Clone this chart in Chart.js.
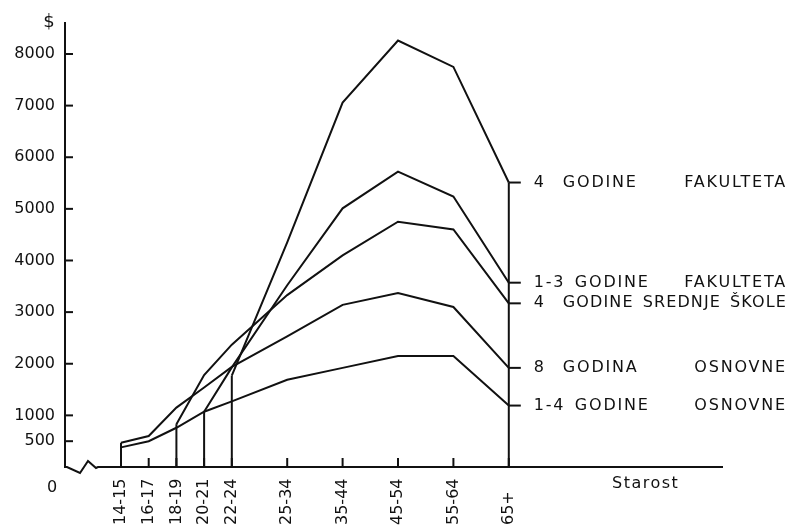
<!DOCTYPE html>
<html lang="hr">
<head>
    <meta charset="UTF-8">
    <title>Prihod prema starosti i obrazovanju</title>
    <script src="https://cdn.jsdelivr.net/npm/chart.js@4.4.0/dist/chart.umd.min.js"></script>
    <style>
        html, body { margin: 0; padding: 0; background: #fff; }
    </style>
</head>
<body>
    <canvas id="myChart" width="792" height="525"></canvas>

    <script>
        // age groups and where they sit on the (uneven) x axis
        const ages = ['14-15', '16-17', '18-19', '20-21', '22-24', '25-34', '35-44', '45-54', '55-64', '65+'];
        const agePos = [0, 1, 2, 3, 4, 6, 8, 10, 12, 14];

        const yTicks = [500, 1000, 2000, 3000, 4000, 5000, 6000, 7000, 8000];
        const yTickText = ['500', '1000', '2000', '3000', '4000', '5000', '6000', '7000', '8000'];

        // income in $ per education level (null = group not yet in the workforce)
        const fak4  = [null, null, null, null, 1770, 4350, 7060, 8260, 7750, 5510];
        const fak13 = [null, null, null, 1070, 1930, 3520, 5010, 5720, 5240, 3570];
        const sred4 = [null, null, 830, 1780, 2370, 3330, 4100, 4750, 4600, 3170];
        const osn8  = [470, 600, 1150, 1540, 1940, 2530, 3140, 3370, 3100, 1920];
        const osn14 = [380, 500, 760, 1070, 1270, 1690, 1920, 2150, 2150, 1190];

        const seriesNames = [
            '4 GODINE FAKULTETA',
            '1-3 GODINE FAKULTETA',
            '4 GODINE SREDNJE ŠKOLE',
            '8 GODINA OSNOVNE',
            '1-4 GODINE OSNOVNE'
        ];
        const yTitle = '$';
        const xTitle = 'Starost';
        const zeroLabel = '0';

        const allSeries = [fak4, fak13, sred4, osn8, osn14];
        const ink = '#111';
        const family = '"DejaVu Sans", sans-serif';

        function toPoints(vals) {
            return agePos.map((x, i) => ({ x: x, y: vals[i] })).filter(p => p.y !== null);
        }

        function line(ctx, x1, y1, x2, y2) {
            ctx.beginPath();
            ctx.moveTo(x1, y1);
            ctx.lineTo(x2, y2);
            ctx.stroke();
        }

        // axis break, inner ticks, drop lines and the hand-lettered labels
        const decor = {
            id: 'decor',
            afterDraw(chart) {
                const { ctx, chartArea, scales: { x, y } } = chart;
                const y0 = y.getPixelForValue(0);
                const L = chartArea.left;
                ctx.save();
                ctx.strokeStyle = ink;
                ctx.fillStyle = ink;

                // x axis with zigzag break
                ctx.lineWidth = 2;
                ctx.beginPath();
                ctx.moveTo(L, y0);
                ctx.lineTo(L + 2, y0);
                ctx.lineTo(L + 15, y0 + 6);
                ctx.lineTo(L + 23, y0 - 6);
                ctx.lineTo(L + 31, y0 + 1);
                ctx.lineTo(L + 33, y0);
                ctx.lineTo(chartArea.right, y0);
                ctx.stroke();

                // y ticks pointing inward
                yTicks.forEach(v => {
                    const py = y.getPixelForValue(v);
                    line(ctx, L, py, L + 8, py);
                });

                // x ticks
                agePos.forEach(p => {
                    const px = x.getPixelForValue(p);
                    line(ctx, px, y0, px, y0 - 9);
                });

                // vertical line where each series begins
                allSeries.forEach(vals => {
                    const i = vals.findIndex(v => v !== null);
                    const px = x.getPixelForValue(agePos[i]);
                    line(ctx, px, y0, px, y.getPixelForValue(vals[i]));
                });

                // closing vertical at the last age group
                const last = agePos.length - 1;
                const xe = x.getPixelForValue(agePos[last]);
                const top = Math.max(...allSeries.map(v => v[last]));
                line(ctx, xe, y0, xe, y.getPixelForValue(top));

                // series labels at the right end, words spread to the edge
                ctx.font = '16px ' + family;
                ctx.textBaseline = 'middle';
                ctx.textAlign = 'left';
                const end = chart.width - 5;
                allSeries.forEach((vals, i) => {
                    const py = y.getPixelForValue(vals[last]);
                    line(ctx, xe, py, xe + 12, py);
                    const words = seriesNames[i].split(' ');
                    ctx.letterSpacing = '1.8px';
                    ctx.fillText(words[0], xe + 25, py);
                    const rest = words.slice(1);
                    const start = words[0].length > 1 ? xe + 66 : xe + 54;

                    ctx.letterSpacing = '0px';
                    const plain = rest.reduce((a, w) => a + ctx.measureText(w).width, 0);
                    const chars = rest.reduce((a, w) => a + w.length, 0);
                    let sp = 1.8;
                    const minGap = 9;
                    if (end - start - plain - sp * chars < minGap * (rest.length - 1)) {
                        sp = (end - start - plain - minGap * (rest.length - 1)) / chars;
                    }
                    ctx.letterSpacing = sp + 'px';
                    const widths = rest.map(w => ctx.measureText(w).width);
                    const total = widths.reduce((a, b) => a + b, 0);
                    const gap = rest.length > 1 ? (end - start - total) / (rest.length - 1) : 0;
                    let cx = start;
                    rest.forEach((w, k) => {
                        ctx.fillText(w, cx, py);
                        cx += widths[k] + gap;
                    });
                });

                // rotated age labels, reading upwards from the bottom edge
                ctx.letterSpacing = '0px';
                ctx.font = '16px ' + family;
                agePos.forEach((p, i) => {
                    const px = x.getPixelForValue(p);
                    ctx.save();
                    ctx.translate(px, chart.height);
                    ctx.rotate(-Math.PI / 2);
                    ctx.textAlign = 'left';
                    ctx.textBaseline = 'middle';
                    ctx.fillText(ages[i], 0, 0);
                    ctx.restore();
                });

                // axis titles and the lone zero
                ctx.textAlign = 'left';
                ctx.letterSpacing = '1.5px';
                ctx.fillText(xTitle, chartArea.right - 111, y0 + 17);
                ctx.letterSpacing = '0px';
                ctx.textAlign = 'center';
                ctx.fillText(zeroLabel, L - 13, y0 + 21);
                ctx.font = '18px ' + family;
                ctx.fillText(yTitle, L - 16, 22);
                ctx.restore();
            }
        };

        const ctx = document.getElementById('myChart').getContext('2d');

        new Chart(ctx, {
            type: 'line',
            data: {
                datasets: allSeries.map((vals, i) => ({
                    label: seriesNames[i],
                    data: toPoints(vals),
                    borderColor: ink,
                    borderWidth: 2,
                    pointRadius: 0,
                    tension: 0,
                    fill: false
                }))
            },
            options: {
                responsive: false,
                animation: false,
                layout: {
                    padding: { top: 23, right: 69, left: 0, bottom: 0 }
                },
                scales: {
                    x: {
                        type: 'linear',
                        min: -2.022,
                        max: 21.733,
                        afterFit: s => { s.height = 58; },
                        grid: { display: false, drawTicks: false },
                        border: { display: false },
                        ticks: { display: false }
                    },
                    y: {
                        type: 'linear',
                        min: 0,
                        max: 8600,
                        afterBuildTicks: s => { s.ticks = yTicks.map(v => ({ value: v })); },
                        afterFit: s => { s.width = 65; },
                        grid: { display: false, drawTicks: false },
                        border: { display: true, color: ink, width: 2 },
                        ticks: {
                            color: ink,
                            padding: 10,
                            font: { family: family, size: 16 },
                            callback: v => yTickText[yTicks.indexOf(v)]
                        }
                    }
                },
                plugins: {
                    legend: { display: false },
                    tooltip: { enabled: false }
                }
            },
            plugins: [decor]
        });
    </script>
</body>
</html>
